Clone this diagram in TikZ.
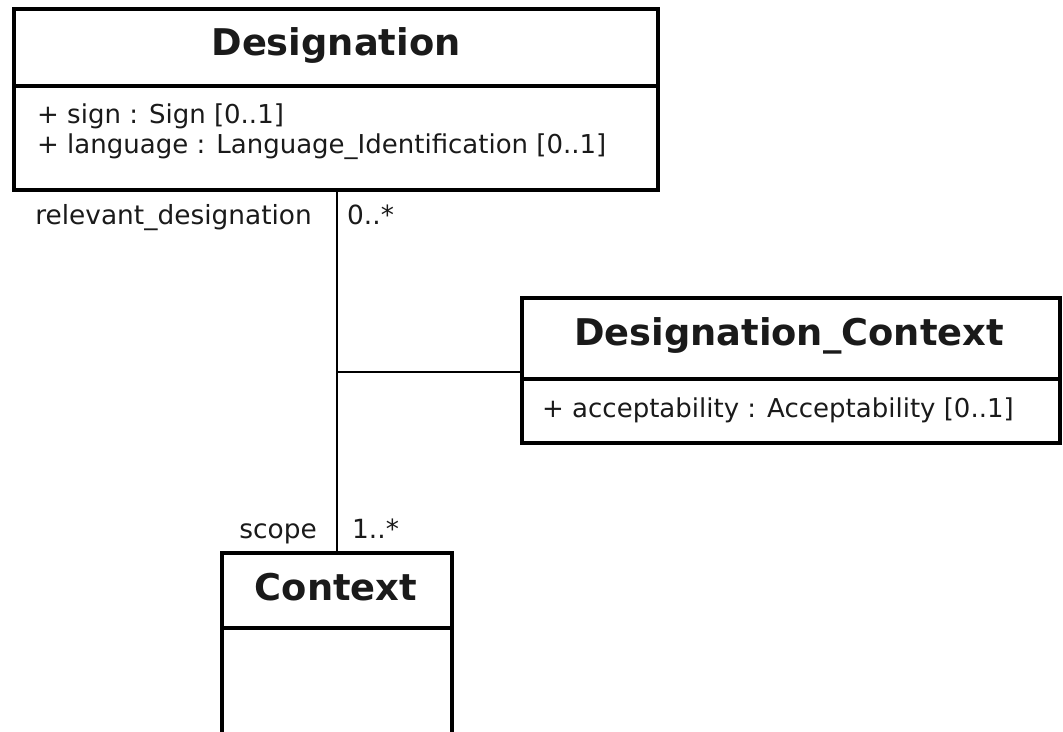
\documentclass[tikz,border=0pt]{standalone}
\usepackage{fontspec}
\setmainfont{DejaVu Sans}
\definecolor{ink}{HTML}{1A1A1A}
\begin{document}
\begin{tikzpicture}[x=1pt,y=-1pt,
  box/.style={draw=black, line width=3.4pt, inner sep=0pt, outer sep=0pt, anchor=north west},
  title/.style={anchor=base, inner sep=0pt, text=ink, font=\fontsize{36.8}{44}\selectfont\bfseries},
  attr/.style={anchor=base west, inner sep=0pt, text=ink, font=\fontsize{26}{31}\selectfont},
  lbl/.style={inner sep=0pt, text=ink, font=\fontsize{26.4}{31}\selectfont},
  conn/.style={draw=black, line width=1.8pt}]
\useasboundingbox (0,0) rectangle (1063,731);
\clip (0,0) rectangle (1063,731);
% Designation
\node[box, minimum width=644pt, minimum height=77pt] (Dh) at (14,9) {};
\node[box, minimum width=644pt, minimum height=104pt] (Db) at (14,86) {};
\node[title] (Dt) at (336,55) {Designation};
\node[attr] (Da1) at (37,123) {+ sign : Sign [0..1]};
\node[attr] (Da2) at (37,153) {+ language : Language\_Identification [0..1]};
% Designation_Context
\node[box, minimum width=538pt, minimum height=81pt] (Ch) at (522,298) {};
\node[box, minimum width=538pt, minimum height=64pt] (Cb) at (522,379) {};
\node[title] (Ct) at (789,345) {Designation\_Context};
\node[attr] (Ca1) at (542,417) {+ acceptability : Acceptability [0..1]};
% Context
\node[box, minimum width=230pt, minimum height=75pt] (Xh) at (222,553) {};
\node[box, minimum width=230pt, minimum height=140pt] (Xb) at (222,628) {};
\node[title] (Xt) at (336,600) {Context};
% connectors
\coordinate (j) at (337,372);
\draw[conn] (j |- Db.south) -- (j |- Xh.north);
\draw[conn] (j) -- (j -| Ch.west);
% labels
\node[lbl, anchor=base east] (l1) at (312,224) {relevant\_designation};
\node[lbl, anchor=base west] (l2) at (347,224) {0..*};
\node[lbl, anchor=base east] (l3) at (317,538) {scope};
\node[lbl, anchor=base west] (l4) at (352,538) {1..*};
\end{tikzpicture}
\end{document}
